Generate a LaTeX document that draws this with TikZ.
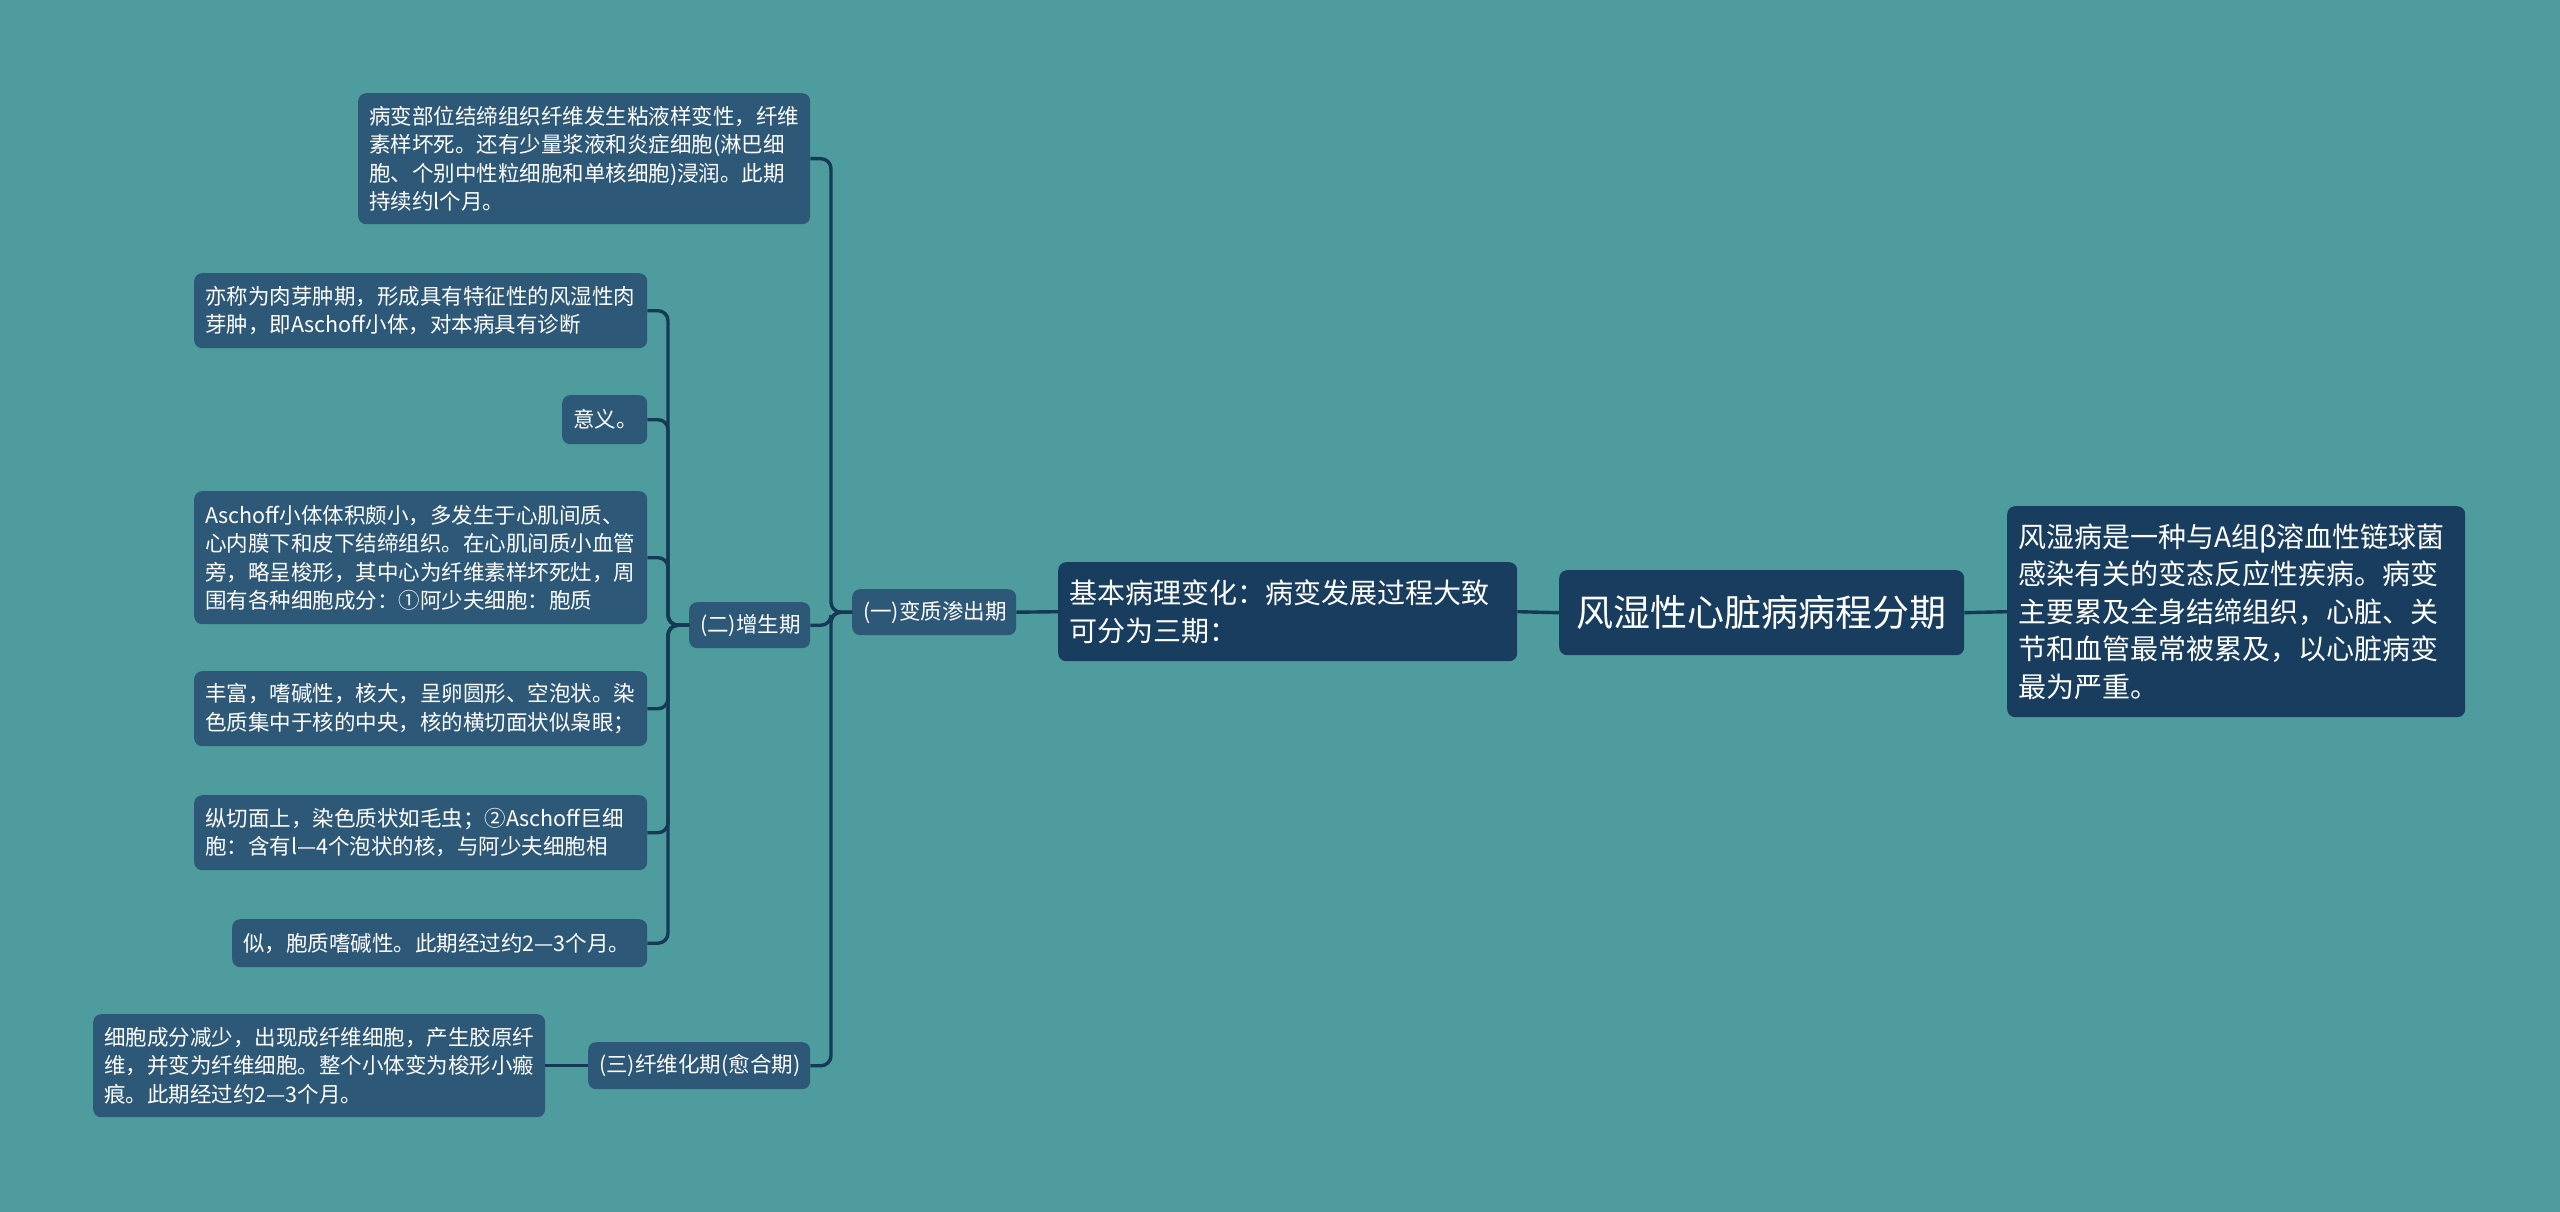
\documentclass[tikz,border=0pt]{standalone}
\usepackage{fontspec}
\setmainfont{Noto Sans CJK SC}
\definecolor{bgc}{HTML}{4E9C9D}
\definecolor{leafc}{HTML}{2D5878}
\definecolor{darkc}{HTML}{183D5E}
\definecolor{linec}{HTML}{143A58}
\newcommand\mkbox[7]{%
  \pgfmathsetmacro\bw{#4-#2}\pgfmathsetmacro\bh{#5-#3}\pgfmathsetmacro\tw{#4-#2-22}%
  \node[#6, anchor=north west, minimum width=\bw pt, minimum height=\bh pt, text width=\tw pt] (#1) at (#2,#3) {#7};}
\tikzset{
  basebox/.style={rounded corners=8pt, text=white, inner xsep=11pt, inner ysep=0pt, align=left},
  leaf/.style={basebox, fill=leafc, font=\fontsize{21.5}{28.5}\selectfont},
  mid/.style={basebox, fill=darkc, font=\fontsize{28}{37.5}\selectfont},
  rootbox/.style={basebox, fill=darkc, align=center, font=\fontsize{37}{44}\selectfont},
  conn/.style={draw=linec, line width=3.4pt, rounded corners=10pt}
}
\begin{document}
\begin{tikzpicture}[x=1pt,y=-1pt]
\fill[bgc] (0,0) rectangle (2560,1212);
\useasboundingbox (0,0) rectangle (2560,1212);
% main nodes
\mkbox{root}{1559}{570}{1964}{655}{rootbox}{风湿性心脏病病程分期}
\mkbox{rt}{2007}{506}{2465}{717}{mid}{风湿病是一种与A组β溶血性链球菌\\感染有关的变态反应性疾病。病变\\主要累及全身结缔组织，心脏、关\\节和血管最常被累及，以心脏病变\\最为严重。}
\mkbox{lone}{1058}{562}{1517}{661}{mid}{基本病理变化：病变发展过程大致\\可分为三期：}
\mkbox{bone}{852}{589}{1016}{635}{leaf}{(一)变质渗出期}
\mkbox{btwo}{689}{602}{810}{648}{leaf}{(二)增生期}
\mkbox{bthree}{588}{1042}{810}{1089}{leaf}{(三)纤维化期(愈合期)}
% leaves
\mkbox{top}{358}{93}{810}{224}{leaf}{病变部位结缔组织纤维发生粘液样变性，纤维\\素样坏死。还有少量浆液和炎症细胞(淋巴细\\胞、个别中性粒细胞和单核细胞)浸润。此期\\持续约l个月。}
\mkbox{ycheng}{194}{273}{647}{348}{leaf}{亦称为肉芽肿期，形成具有特征性的风湿性肉\\芽肿，即Aschoff小体，对本病具有诊断}
\mkbox{yiyi}{562}{395}{647}{444}{leaf}{意义。}
\mkbox{asch}{194}{491}{647}{624}{leaf}{Aschoff小体体积颇小，多发生于心肌间质、\\心内膜下和皮下结缔组织。在心肌间质小血管\\旁，略呈梭形，其中心为纤维素样坏死灶，周\\围有各种细胞成分：①阿少夫细胞：胞质}
\mkbox{fengfu}{194}{671}{647}{746}{leaf}{丰富，嗜碱性，核大，呈卵圆形、空泡状。染\\色质集中于核的中央，核的横切面状似枭眼；}
\mkbox{zong}{194}{795}{647}{870}{leaf}{纵切面上，染色质状如毛虫；②Aschoff巨细\\胞：含有l—4个泡状的核，与阿少夫细胞相}
\mkbox{si}{232}{919}{647}{967}{leaf}{似，胞质嗜碱性。此期经过约2—3个月。}
\mkbox{xibao}{93}{1014}{545}{1117}{leaf}{细胞成分减少，出现成纤维细胞，产生胶原纤\\维，并变为纤维细胞。整个小体变为梭形小瘢\\痕。此期经过约2—3个月。}
% connectors
\draw[conn] (root.west) -- (lone.east);
\draw[conn] (root.east) -- (rt.west);
\draw[conn] (lone.west) -- (bone.east);
\foreach \c in {top,btwo,bthree}{
  \draw[conn] (bone.west) -- ++(-21,0) |- (\c.east);
}
\foreach \c in {ycheng,yiyi,asch,fengfu,zong,si}{
  \draw[conn] (btwo.west) -- ++(-21,0) |- (\c.east);
}
\draw[conn] (bthree.west) -- (xibao.east);
\end{tikzpicture}
\end{document}
